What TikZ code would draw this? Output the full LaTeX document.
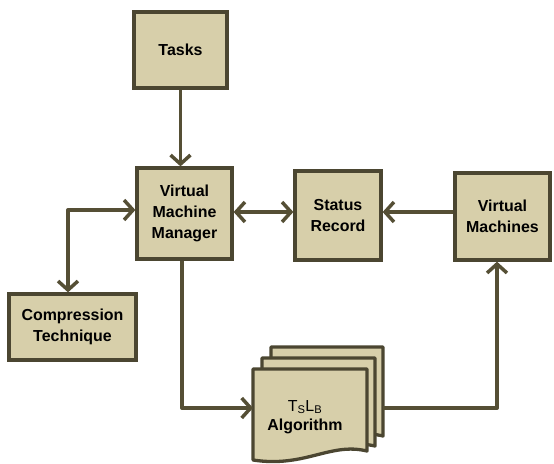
\documentclass[tikz,border=0pt]{standalone}
\usepackage{fontspec}
\setmainfont{Liberation Sans}
\usetikzlibrary{arrows.meta}
\definecolor{boxfill}{HTML}{D7CFAA}
\definecolor{boxedge}{HTML}{4B4631}
\definecolor{arrowc}{HTML}{554F35}
\tikzset{
  blk/.style={draw=boxedge, fill=boxfill, line width=3.3pt, inner sep=0pt, align=center,
    font=\fontsize{16}{21}\selectfont\bfseries},
  conn/.style={draw=arrowc, line width=4pt, line join=round},
  barb/.tip={Straight Barb[length=9pt,width=20pt,line width=3.5pt]},
  tip/.style={-barb},
  dtip/.style={barb-barb},
  doc/.style={draw=boxedge, fill=boxfill, line width=3.3pt, line join=round}
}
\begin{document}
\begin{tikzpicture}[x=1bp,y=-1bp]
\useasboundingbox (0,0) rectangle (554,464);
\fill[white] (0,0) rectangle (554,464);
% boxes
\node[blk, minimum width=93bp, minimum height=76bp] (tasks) at (180.5,50) {Tasks};
\node[blk, minimum width=95bp, minimum height=91bp] (vmm) at (184.5,213.5) {Virtual\\Machine\\Manager};
\node[blk, minimum width=86bp, minimum height=89bp] (sr) at (338,215.5) {Status\\Record};
\node[blk, minimum width=95bp, minimum height=87bp] (vm) at (502.5,216.5) {Virtual\\Machines};
\node[blk, minimum width=127bp, minimum height=66bp] (ct) at (72.5,327) {Compression\\Technique};
% multi-document
\draw[doc] (271,347) -- (383,347) -- (383,436) .. controls (350,428) and (330,448) .. (271,440) -- cycle;
\draw[doc] (262,358) -- (375,358) -- (375,446) .. controls (340,438) and (320,458) .. (262,450) -- cycle;
\draw[doc] (253,369) -- (367,369) -- (367,451) .. controls (330,442) and (305,468) .. (253,460) -- cycle;
\node[align=center, font=\fontsize{16}{19}\selectfont] (alg) at (305,417) {T\textsubscript{S}L\textsubscript{B}\\\textbf{Algorithm}};
\coordinate (algL) at (253,408);
\coordinate (algR) at (383,408);
\coordinate (bend1) at (68,210);
\coordinate (bend2) at (182,408);
\coordinate (bend3) at (497,408);
% connectors
\draw[conn, tip] (tasks.south) -- (vmm.north -| tasks.south);
\draw[conn, dtip] (vmm.west |- bend1) -- (bend1) -- (bend1 |- ct.north);
\draw[conn, dtip] (vmm.east |- 0,212) -- (sr.west |- 0,212);
\draw[conn, tip] (vm.west |- 0,212) -- (sr.east |- 0,212);
\draw[conn, tip] (vmm.south -| bend2) -- (bend2) -- (algL);
\draw[conn, tip] (algR) -- (bend3) -- (bend3 |- vm.south);
\end{tikzpicture}
\end{document}
